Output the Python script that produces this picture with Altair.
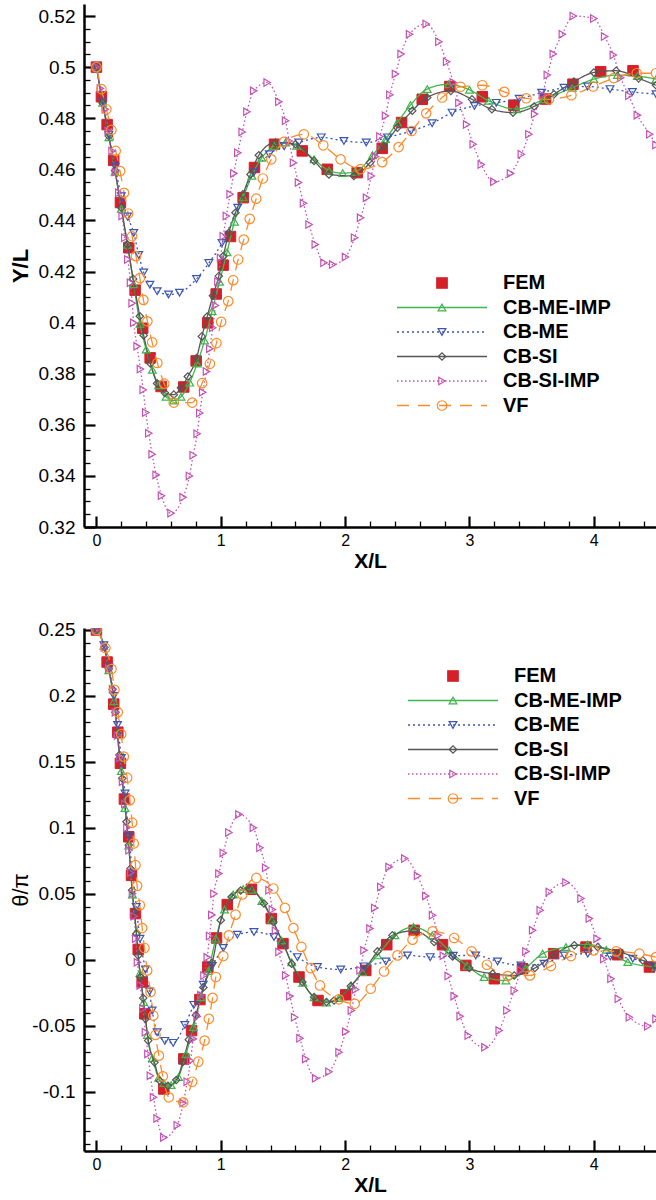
import altair as alt
import pandas as pd

FONT = "Liberation Sans"

# ---------------- series definitions ----------------
SERIES = ["FEM", "CB-ME-IMP", "CB-ME", "CB-SI", "CB-SI-IMP", "VF"]
COLORS = ["#d52029", "#3fb54a", "#3b55b3", "#555555", "#c551b4", "#ff8b2b"]
SHAPES = ["square", "triangle-up", "triangle-down", "diamond", "triangle-right", "circle"]
FILLS = ["#d52029", "transparent", "transparent", "transparent", "transparent", "transparent"]
SIZES = [110, 60, 60, 55, 55, 90]
LINE_KEYS = ["L-" + s for s in SERIES]
LINE_COLORS = ["transparent", "#3fb54a", "#3b55b3", "#555555", "#c551b4", "#ff8b2b"]
LINE_DASHES = [[1, 0], [1, 0], [2, 3], [1, 0], [1.5, 2.5], [12, 9]]

# ---------------- top panel: Y/L ----------------
fem_top_x = [0.0, 0.04, 0.086, 0.139, 0.193, 0.26, 0.311, 0.372, 0.432, 0.52, 0.702, 0.802, 0.895, 0.963, 1.019, 1.078, 1.18, 1.271, 1.432, 1.655, 1.856, 2.097, 2.298, 2.454, 2.62, 2.842, 3.103, 3.357, 3.612, 3.832, 4.055, 4.315]
fem_top_y = [0.5, 0.4884, 0.4775, 0.4635, 0.447, 0.4293, 0.4127, 0.3978, 0.3862, 0.375, 0.3748, 0.385, 0.3999, 0.4112, 0.4225, 0.4337, 0.4489, 0.4607, 0.4698, 0.4672, 0.46, 0.4587, 0.4682, 0.4783, 0.4874, 0.4924, 0.4884, 0.4851, 0.4875, 0.4933, 0.4982, 0.4986]

meimp_top_x = [0.0, 0.05, 0.1, 0.15, 0.2, 0.25, 0.3, 0.35, 0.4, 0.45, 0.5, 0.56, 0.62, 0.68, 0.75, 0.81, 0.87, 0.93, 0.99, 1.05, 1.11, 1.18, 1.25, 1.33, 1.43, 1.52, 1.61, 1.75, 1.87, 1.98, 2.08, 2.22, 2.325, 2.42, 2.525, 2.66, 2.834, 3.0, 3.156, 3.38, 3.6, 3.827, 4.0, 4.19, 4.35, 4.5]
meimp_top_y = [0.5, 0.486, 0.4725, 0.459, 0.4445, 0.4305, 0.415, 0.3995, 0.3895, 0.3815, 0.3755, 0.371, 0.3695, 0.371, 0.3765, 0.384, 0.393, 0.4045, 0.416, 0.4275, 0.4395, 0.449, 0.4575, 0.4645, 0.4691, 0.4705, 0.4692, 0.4639, 0.4595, 0.4585, 0.459, 0.4655, 0.4718, 0.4783, 0.4851, 0.4914, 0.4933, 0.4911, 0.4868, 0.4835, 0.4874, 0.4919, 0.4953, 0.4969, 0.4965, 0.4953]

me_top_x = [0.0, 0.05, 0.1, 0.15, 0.2, 0.25, 0.3, 0.34, 0.38, 0.43, 0.488, 0.58, 0.668, 0.805, 0.904, 1.01, 1.136, 1.265, 1.39, 1.51, 1.627, 1.808, 1.99, 2.17, 2.34, 2.53, 2.7, 2.86, 3.04, 3.215, 3.4, 3.58, 3.76, 3.95, 4.13, 4.31, 4.5]
me_top_y = [0.5, 0.4865, 0.4735, 0.461, 0.4495, 0.4415, 0.4351, 0.4265, 0.4196, 0.4148, 0.4123, 0.411, 0.4117, 0.4171, 0.4233, 0.4312, 0.445, 0.4587, 0.4659, 0.469, 0.4705, 0.4725, 0.4711, 0.4705, 0.4725, 0.475, 0.478, 0.4822, 0.4848, 0.486, 0.4876, 0.49, 0.4919, 0.4924, 0.4914, 0.4903, 0.4894]

si_top_x = [0.0, 0.05, 0.1, 0.15, 0.2, 0.25, 0.295, 0.349, 0.38, 0.434, 0.488, 0.55, 0.622, 0.68, 0.735, 0.805, 0.848, 0.891, 0.937, 0.984, 1.02, 1.064, 1.118, 1.177, 1.239, 1.306, 1.44, 1.6, 1.75, 1.87, 2.07, 2.2, 2.31, 2.42, 2.54, 2.66, 2.85, 3.02, 3.18, 3.35, 3.52, 3.68, 3.84, 4.0, 4.18, 4.36, 4.5]
si_top_y = [0.5, 0.486, 0.473, 0.4595, 0.445, 0.4305, 0.4171, 0.4025, 0.395, 0.384, 0.3762, 0.3725, 0.3718, 0.3745, 0.3789, 0.3861, 0.3946, 0.4024, 0.4105, 0.4182, 0.426, 0.4351, 0.443, 0.4502, 0.458, 0.4655, 0.4705, 0.4698, 0.4633, 0.458, 0.4574, 0.4626, 0.4691, 0.4763, 0.4829, 0.4881, 0.4907, 0.4874, 0.4835, 0.4822, 0.4846, 0.4894, 0.4943, 0.4979, 0.4986, 0.4956, 0.4929]

siimp_top_x = [0.0, 0.032, 0.072, 0.094, 0.126, 0.153, 0.18, 0.207, 0.228, 0.252, 0.274, 0.287, 0.3, 0.327, 0.354, 0.376, 0.397, 0.421, 0.448, 0.48, 0.523, 0.6, 0.697, 0.748, 0.778, 0.81, 0.831, 0.855, 0.885, 0.912, 0.935, 0.957, 0.977, 0.998, 1.02, 1.045, 1.075, 1.105, 1.137, 1.172, 1.21, 1.265, 1.373, 1.467, 1.521, 1.55, 1.585, 1.625, 1.665, 1.71, 1.76, 1.83, 1.9, 2.003, 2.076, 2.124, 2.172, 2.21, 2.245, 2.28, 2.325, 2.36, 2.405, 2.45, 2.518, 2.652, 2.754, 2.816, 2.87, 2.915, 2.977, 3.03, 3.095, 3.196, 3.33, 3.417, 3.478, 3.524, 3.586, 3.626, 3.674, 3.747, 3.835, 4.0, 4.087, 4.157, 4.216, 4.282, 4.35, 4.45, 4.5]
siimp_top_y = [0.5, 0.4916, 0.4835, 0.475, 0.4672, 0.4589, 0.4508, 0.4417, 0.4332, 0.4247, 0.4156, 0.4076, 0.3999, 0.3907, 0.3818, 0.3737, 0.3648, 0.3567, 0.3485, 0.3404, 0.3322, 0.3254, 0.3316, 0.34, 0.3481, 0.3565, 0.3646, 0.3727, 0.3809, 0.3898, 0.398, 0.4067, 0.416, 0.4253, 0.4338, 0.4417, 0.4502, 0.4584, 0.4665, 0.4746, 0.4825, 0.4907, 0.494, 0.4864, 0.479, 0.4711, 0.4626, 0.4548, 0.4467, 0.4384, 0.4306, 0.4234, 0.4227, 0.4257, 0.4332, 0.441, 0.4489, 0.4574, 0.465, 0.4728, 0.481, 0.4892, 0.4973, 0.5051, 0.5129, 0.5169, 0.5099, 0.5021, 0.494, 0.486, 0.4775, 0.4698, 0.4619, 0.4551, 0.4584, 0.4659, 0.4737, 0.4816, 0.4892, 0.4969, 0.5051, 0.5129, 0.52, 0.519, 0.512, 0.5047, 0.4958, 0.4888, 0.4812, 0.4737, 0.4695]

vf_top_x = [0.0, 0.04, 0.08, 0.12, 0.155, 0.19, 0.222, 0.255, 0.287, 0.318, 0.349, 0.378, 0.41, 0.448, 0.49, 0.545, 0.622, 0.77, 0.85, 0.912, 0.965, 1.003, 1.06, 1.1, 1.14, 1.185, 1.233, 1.285, 1.338, 1.406, 1.507, 1.668, 1.824, 1.963, 2.124, 2.298, 2.43, 2.534, 2.652, 2.78, 2.928, 3.103, 3.28, 3.457, 3.639, 3.82, 3.995, 4.16, 4.345, 4.5]
vf_top_y = [0.5, 0.4914, 0.4835, 0.4754, 0.4672, 0.4593, 0.4508, 0.4427, 0.4338, 0.426, 0.4174, 0.4089, 0.4005, 0.3923, 0.3842, 0.3761, 0.3687, 0.3687, 0.3763, 0.3839, 0.392, 0.4003, 0.4084, 0.4166, 0.4247, 0.4325, 0.4406, 0.4485, 0.4564, 0.4639, 0.4707, 0.4737, 0.4694, 0.4639, 0.4601, 0.4628, 0.4687, 0.475, 0.4819, 0.4881, 0.4923, 0.4929, 0.4903, 0.4878, 0.4874, 0.489, 0.4924, 0.4957, 0.4976, 0.4976]

# ---------------- bottom panel: theta/pi ----------------
fem_bot_x = [0.0, 0.086, 0.139, 0.172, 0.193, 0.225, 0.26, 0.282, 0.314, 0.336, 0.368, 0.389, 0.542, 0.703, 0.765, 0.832, 0.896, 0.966, 1.052, 1.246, 1.406, 1.5, 1.629, 1.782, 2.005, 2.166, 2.335, 2.555, 2.783, 2.971, 3.2, 3.427, 3.677, 3.937, 4.192, 4.447]
fem_bot_y = [0.25, 0.2257, 0.1938, 0.1725, 0.1489, 0.1218, 0.0932, 0.064, 0.035, 0.0078, -0.0169, -0.041, -0.098, -0.0752, -0.0537, -0.0302, -0.0055, 0.0165, 0.0418, 0.0534, 0.0312, 0.0122, -0.0131, -0.0309, -0.0266, -0.0081, 0.0114, 0.0223, 0.0114, -0.0043, -0.0144, -0.0068, 0.0046, 0.0096, 0.0038, -0.0055]

meimp_bot_x = [0.0, 0.06, 0.1, 0.14, 0.17, 0.2, 0.23, 0.26, 0.29, 0.32, 0.35, 0.38, 0.41, 0.45, 0.5, 0.542, 0.6, 0.66, 0.72, 0.78, 0.84, 0.9, 0.96, 1.03, 1.1, 1.18, 1.25, 1.33, 1.41, 1.49, 1.57, 1.66, 1.75, 1.85, 1.95, 2.05, 2.139, 2.26, 2.4, 2.55, 2.7, 2.837, 2.98, 3.118, 3.293, 3.45, 3.588, 3.776, 3.95, 4.1, 4.273, 4.5]
meimp_bot_y = [0.25, 0.238, 0.2195, 0.196, 0.172, 0.143, 0.115, 0.0865, 0.0495, 0.021, -0.01, -0.032, -0.057, -0.0745, -0.0895, -0.0935, -0.095, -0.089, -0.0715, -0.051, -0.0285, -0.0085, 0.016, 0.038, 0.0495, 0.0535, 0.053, 0.0445, 0.0305, 0.0145, -0.002, -0.0175, -0.0285, -0.0325, -0.029, -0.0195, -0.0094, 0.0033, 0.0185, 0.0248, 0.0185, 0.007, -0.0045, -0.0131, -0.0157, -0.0065, 0.0046, 0.0096, 0.0116, 0.0075, -0.0018, -0.0055]

me_bot_x = [0.0, 0.06, 0.1, 0.14, 0.17, 0.2, 0.23, 0.26, 0.29, 0.32, 0.35, 0.394, 0.427, 0.448, 0.488, 0.55, 0.617, 0.711, 0.783, 0.859, 0.931, 1.02, 1.133, 1.267, 1.428, 1.616, 1.777, 1.965, 2.15, 2.327, 2.501, 2.684, 2.87, 3.05, 3.226, 3.414, 3.6, 3.763, 3.951, 4.133, 4.313, 4.487]
me_bot_y = [0.25, 0.2385, 0.2215, 0.2, 0.178, 0.153, 0.126, 0.094, 0.066, 0.04, 0.016, -0.0074, -0.024, -0.0385, -0.055, -0.0615, -0.063, -0.0494, -0.0342, -0.019, -0.0048, 0.0089, 0.019, 0.021, 0.0172, 0.002, -0.0055, -0.0074, -0.005, -0.0013, 0.0033, 0.002, 0.003, 0.0033, -0.0013, -0.0043, -0.003, 0.0033, 0.0046, 0.0025, 0.0008, -0.0051]

si_bot_x = [0.0, 0.064, 0.099, 0.13, 0.153, 0.167, 0.185, 0.207, 0.225, 0.242, 0.26, 0.274, 0.287, 0.306, 0.322, 0.336, 0.354, 0.376, 0.395, 0.416, 0.467, 0.51, 0.575, 0.642, 0.695, 0.743, 0.8, 0.86, 0.931, 1.0, 1.087, 1.16, 1.226, 1.347, 1.423, 1.503, 1.57, 1.656, 1.75, 1.85, 1.911, 2.045, 2.152, 2.26, 2.38, 2.555, 2.716, 2.864, 2.998, 3.186, 3.36, 3.526, 3.682, 3.843, 4.031, 4.213, 4.394, 4.5]
si_bot_y = [0.25, 0.2369, 0.2206, 0.205, 0.1877, 0.1717, 0.1552, 0.1375, 0.121, 0.1046, 0.0869, 0.0691, 0.0527, 0.0362, 0.0198, 0.0033, -0.0131, -0.0291, -0.0448, -0.0613, -0.0778, -0.0917, -0.0955, -0.0912, -0.0775, -0.0606, -0.042, -0.021, -0.0023, 0.03, 0.0476, 0.0525, 0.054, 0.0426, 0.0286, 0.0122, -0.003, -0.0169, -0.0283, -0.032, -0.0309, -0.02, -0.0081, 0.0063, 0.0185, 0.022, 0.0134, 0.0025, -0.0063, -0.0106, -0.0119, -0.0063, 0.0038, 0.0109, 0.0096, 0.0058, -0.0005, -0.0043]

siimp_bot_x = [0.0, 0.064, 0.099, 0.13, 0.153, 0.17, 0.188, 0.21, 0.228, 0.245, 0.262, 0.276, 0.29, 0.303, 0.316, 0.33, 0.352, 0.374, 0.394, 0.414, 0.434, 0.459, 0.488, 0.542, 0.65, 0.698, 0.73, 0.757, 0.778, 0.81, 0.84, 0.865, 0.891, 0.91, 0.928, 0.945, 0.985, 1.02, 1.065, 1.146, 1.262, 1.315, 1.361, 1.388, 1.415, 1.44, 1.468, 1.522, 1.556, 1.594, 1.637, 1.683, 1.763, 1.87, 1.951, 2.005, 2.05, 2.085, 2.12, 2.152, 2.2, 2.238, 2.287, 2.353, 2.48, 2.582, 2.649, 2.703, 2.748, 2.79, 2.829, 2.877, 2.925, 2.99, 3.124, 3.239, 3.301, 3.36, 3.41, 3.454, 3.508, 3.569, 3.642, 3.776, 3.897, 3.964, 4.026, 4.08, 4.138, 4.197, 4.286, 4.434, 4.5]
siimp_bot_y = [0.25, 0.2369, 0.2206, 0.205, 0.1877, 0.17, 0.153, 0.135, 0.118, 0.1, 0.083, 0.066, 0.05, 0.033, 0.016, -0.002, -0.0195, -0.0372, -0.055, -0.0714, -0.0879, -0.1043, -0.1203, -0.1347, -0.1254, -0.1087, -0.0925, -0.0765, -0.06, -0.0431, -0.027, -0.012, 0.0018, 0.018, 0.034, 0.05, 0.0653, 0.081, 0.0965, 0.1102, 0.1, 0.0849, 0.0697, 0.0527, 0.038, 0.022, 0.0058, -0.0119, -0.0276, -0.0436, -0.0596, -0.0752, -0.0899, -0.0849, -0.0702, -0.0545, -0.0385, -0.0226, -0.008, 0.0071, 0.0236, 0.0393, 0.0552, 0.0704, 0.0767, 0.0636, 0.0484, 0.0337, 0.0185, 0.003, -0.0124, -0.0276, -0.0428, -0.0575, -0.0664, -0.0537, -0.0385, -0.0233, -0.008, 0.0063, 0.0223, 0.0375, 0.0514, 0.0585, 0.0464, 0.0312, 0.016, 0.0005, -0.0144, -0.0296, -0.0436, -0.0504, -0.0448]

vf_bot_x = [0.0, 0.072, 0.121, 0.145, 0.172, 0.199, 0.22, 0.247, 0.268, 0.287, 0.3, 0.314, 0.327, 0.349, 0.368, 0.386, 0.408, 0.435, 0.457, 0.475, 0.502, 0.534, 0.582, 0.698, 0.77, 0.819, 0.87, 0.904, 0.934, 0.96, 1.02, 1.065, 1.119, 1.173, 1.286, 1.423, 1.516, 1.584, 1.648, 1.723, 1.798, 1.95, 2.077, 2.206, 2.313, 2.421, 2.542, 2.703, 2.877, 3.017, 3.14, 3.307, 3.486, 3.655, 3.816, 3.999, 4.179, 4.366, 4.5]
vf_bot_y = [0.25, 0.2363, 0.2204, 0.2046, 0.1877, 0.171, 0.154, 0.138, 0.121, 0.1039, 0.0881, 0.0717, 0.056, 0.0413, 0.024, 0.0089, -0.0081, -0.0245, -0.0423, -0.057, -0.0727, -0.0884, -0.1043, -0.1081, -0.0925, -0.0773, -0.0613, -0.0448, -0.0289, -0.0131, 0.0028, 0.0185, 0.0342, 0.0495, 0.062, 0.054, 0.0393, 0.024, 0.0097, -0.0063, -0.0195, -0.03, -0.0334, -0.022, -0.0089, 0.0033, 0.0152, 0.0215, 0.0165, 0.0063, -0.0038, -0.0124, -0.0119, -0.0048, 0.0028, 0.0071, 0.0063, 0.0046, 0.002]

# ---------------- axis ticks ----------------
X_LABELS = [0, 1, 2, 3, 4]
X_TICKS = [round(0.2 * i, 1) for i in range(23)]
TOP_Y_LABELS = [round(0.32 + 0.02 * i, 2) for i in range(11)]
TOP_Y_TICKS = [round(0.32 + 0.005 * i, 3) for i in range(41)]
BOT_Y_LABELS = [round(-0.1 + 0.05 * i, 2) for i in range(8)]
BOT_Y_TICKS = [round(-0.14 + 0.01 * i, 2) for i in range(40)]

W, H = 572, 523


def frame(pairs):
    rows = []
    for name, (xs, ys) in pairs.items():
        assert len(xs) == len(ys), name
        for i, (a, b) in enumerate(zip(xs, ys)):
            rows.append({"x": a, "y": b, "series": name, "series_l": "L-" + name, "idx": i})
    return pd.DataFrame(rows)


def panel(df, ydom, ylabels, yticks, ymul, ytitle, ytitle_weight, leg_x, leg_y, line_leg_x):
    xsc = alt.Scale(domain=[-0.1, 4.5], nice=False, zero=False)
    ysc = alt.Scale(domain=ydom, nice=False, zero=False)

    x_main = alt.Axis(orient="bottom", values=X_LABELS, ticks=False, tickSize=0,
                      domainColor="black", domainWidth=2.5, grid=False,
                      labelFont=FONT, labelFontSize=16, labelColor="black", labelPadding=5,
                      labelExpr="'' + datum.value", labelFlush=False, labelOverlap=False,
                      title="X/L", titleFont=FONT, titleFontSize=21, titleFontWeight="bold",
                      titleColor="black", titleY=34, titleBaseline="middle")
    y_main = alt.Axis(orient="left", values=ylabels, ticks=False, tickSize=0,
                      domainColor="black", domainWidth=2.5, grid=False,
                      labelFont=FONT, labelFontSize=19, labelColor="black", labelPadding=9,
                      labelExpr="'' + datum.value", labelFlush=False, labelOverlap=False,
                      title=ytitle, titleFont=FONT, titleFontSize=22, titleFontWeight=ytitle_weight,
                      titleColor="black", titleX=-64, titleBaseline="middle")
    x_ticks = alt.Axis(orient="top", offset=-H, values=X_TICKS, labels=False, domain=False,
                       grid=False, title=None, tickColor="black",
                       tickSize={"condition": {"test": "abs(datum.value - round(datum.value)) < 0.001", "value": 11}, "value": 6},
                       tickWidth={"condition": {"test": "abs(datum.value - round(datum.value)) < 0.001", "value": 2.2}, "value": 1.3})
    ytest = "abs(datum.value*%d - round(datum.value*%d)) < 0.001" % (ymul, ymul)
    y_ticks = alt.Axis(orient="right", offset=-W, values=yticks, labels=False, domain=False,
                       grid=False, title=None, tickColor="black",
                       tickSize={"condition": {"test": ytest, "value": 11}, "value": 6},
                       tickWidth={"condition": {"test": ytest, "value": 2.2}, "value": 1.3})

    pt_leg = alt.Legend(orient="none", legendX=leg_x, legendY=leg_y, title=None,
                        labelFont=FONT, labelFontSize=20, labelFontWeight="bold", labelColor="black",
                        labelOffset=51, rowPadding=4.5, padding=0, symbolOffset=0,
                        symbolStrokeWidth=1.2, clipHeight=20, labelLimit=300)
    line_leg = alt.Legend(orient="none", legendX=line_leg_x, legendY=leg_y, title=None,
                          labelFont=FONT, labelFontSize=20, labelExpr="''",
                          rowPadding=4.5, padding=0, symbolOffset=0, symbolType="stroke",
                          symbolSize=8100, symbolStrokeWidth=1.3, clipHeight=20)

    def point_enc(axis_x, axis_y):
        return dict(
            x=alt.X("x:Q", scale=xsc, axis=axis_x),
            y=alt.Y("y:Q", scale=ysc, axis=axis_y),
            color=alt.Color("series:N", scale=alt.Scale(domain=SERIES, range=COLORS), legend=pt_leg),
            fill=alt.Fill("series:N", scale=alt.Scale(domain=SERIES, range=FILLS), legend=pt_leg),
            shape=alt.Shape("series:N", scale=alt.Scale(domain=SERIES, range=SHAPES), legend=pt_leg),
            size=alt.Size("series:N", scale=alt.Scale(type="ordinal", domain=SERIES, range=SIZES), legend=pt_leg),
        )

    fem = alt.Chart(df[df.series == "FEM"]).mark_point(
        filled=False, clip=True, strokeWidth=1, opacity=1).encode(**point_enc(x_main, y_main))

    lines = alt.Chart(df[df.series != "FEM"]).mark_line(
        clip=True, strokeWidth=1.3, interpolate="monotone").encode(
        x=alt.X("x:Q", scale=xsc, axis=x_ticks),
        y=alt.Y("y:Q", scale=ysc, axis=y_ticks),
        stroke=alt.Stroke("series_l:N", scale=alt.Scale(domain=LINE_KEYS, range=LINE_COLORS), legend=line_leg),
        strokeDash=alt.StrokeDash("series_l:N", scale=alt.Scale(domain=LINE_KEYS, range=LINE_DASHES), legend=line_leg),
        order=alt.Order("idx:Q"),
    )

    pts = alt.Chart(df[df.series != "FEM"]).mark_point(
        filled=False, clip=True, strokeWidth=1.2, opacity=1).encode(**point_enc(None, None))

    return alt.layer(fem, lines, pts).resolve_axis(x="independent", y="independent").properties(width=W, height=H)


top_df = frame({
    "FEM": (fem_top_x, fem_top_y),
    "CB-ME-IMP": (meimp_top_x, meimp_top_y),
    "CB-ME": (me_top_x, me_top_y),
    "CB-SI": (si_top_x, si_top_y),
    "CB-SI-IMP": (siimp_top_x, siimp_top_y),
    "VF": (vf_top_x, vf_top_y),
})
bot_df = frame({
    "FEM": (fem_bot_x, fem_bot_y),
    "CB-ME-IMP": (meimp_bot_x, meimp_bot_y),
    "CB-ME": (me_bot_x, me_bot_y),
    "CB-SI": (si_bot_x, si_bot_y),
    "CB-SI-IMP": (siimp_bot_x, siimp_bot_y),
    "VF": (vf_bot_x, vf_bot_y),
})

top = panel(top_df, [0.32, 0.5247], TOP_Y_LABELS, TOP_Y_TICKS, 50, "Y/L", "bold", 348, 269, 312)
bot = panel(bot_df, [-0.145, 0.2515], BOT_Y_LABELS, BOT_Y_TICKS, 20, "θ/π", "normal", 359, 38, 323)

chart = alt.vconcat(top, bot, spacing=101, bounds="flush").resolve_scale(
    x="independent", y="independent", color="independent", fill="independent",
    shape="independent", size="independent", stroke="independent", strokeDash="independent"
).properties(
    padding={"left": 9, "top": 4, "right": 0, "bottom": 0},
    background="white",
).configure_view(stroke=None)

chart.save("out.html", embed_options={"renderer": "svg", "actions": False})
